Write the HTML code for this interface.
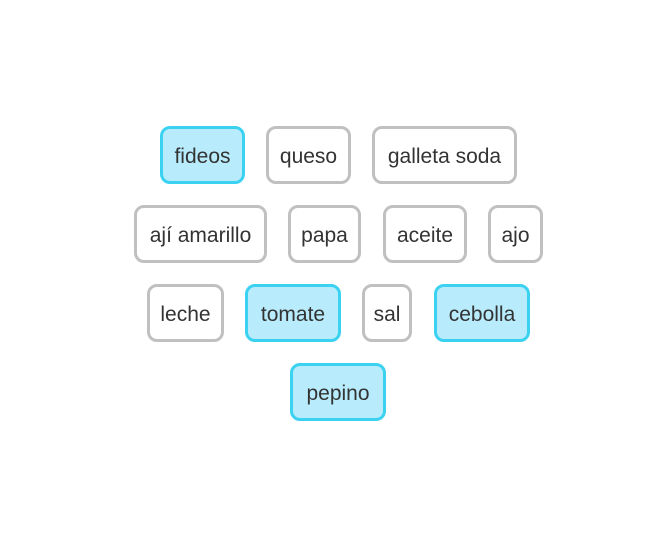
<!DOCTYPE html>
<html><head><meta charset="utf-8"><style>
html,body{margin:0;padding:0;background:#fff;}
body{width:670px;height:533px;position:relative;overflow:hidden;font-family:"Liberation Sans",sans-serif;}
.chip{position:absolute;box-sizing:border-box;height:58px;padding-top:3px;border:3px solid #c0c0c0;border-radius:10px;background:#fff;color:#333;font-size:21px;display:flex;align-items:center;justify-content:center;cursor:pointer;white-space:nowrap;}
.sel{background:#b8ecfd;border-color:#3bd2f2;}
</style></head><body>
<div class="chip sel" style="left:160px;top:126px;width:85px">fideos</div>
<div class="chip" style="left:266px;top:126px;width:85px">queso</div>
<div class="chip" style="left:372px;top:126px;width:145px">galleta soda</div>
<div class="chip" style="left:134px;top:205px;width:133px">ají amarillo</div>
<div class="chip" style="left:288px;top:205px;width:73px">papa</div>
<div class="chip" style="left:383px;top:205px;width:84px">aceite</div>
<div class="chip" style="left:488px;top:205px;width:55px">ajo</div>
<div class="chip" style="left:147px;top:284px;width:77px">leche</div>
<div class="chip sel" style="left:245px;top:284px;width:96px">tomate</div>
<div class="chip" style="left:362px;top:284px;width:50px">sal</div>
<div class="chip sel" style="left:434px;top:284px;width:96px">cebolla</div>
<div class="chip sel" style="left:290px;top:363px;width:96px">pepino</div>
</body></html>
